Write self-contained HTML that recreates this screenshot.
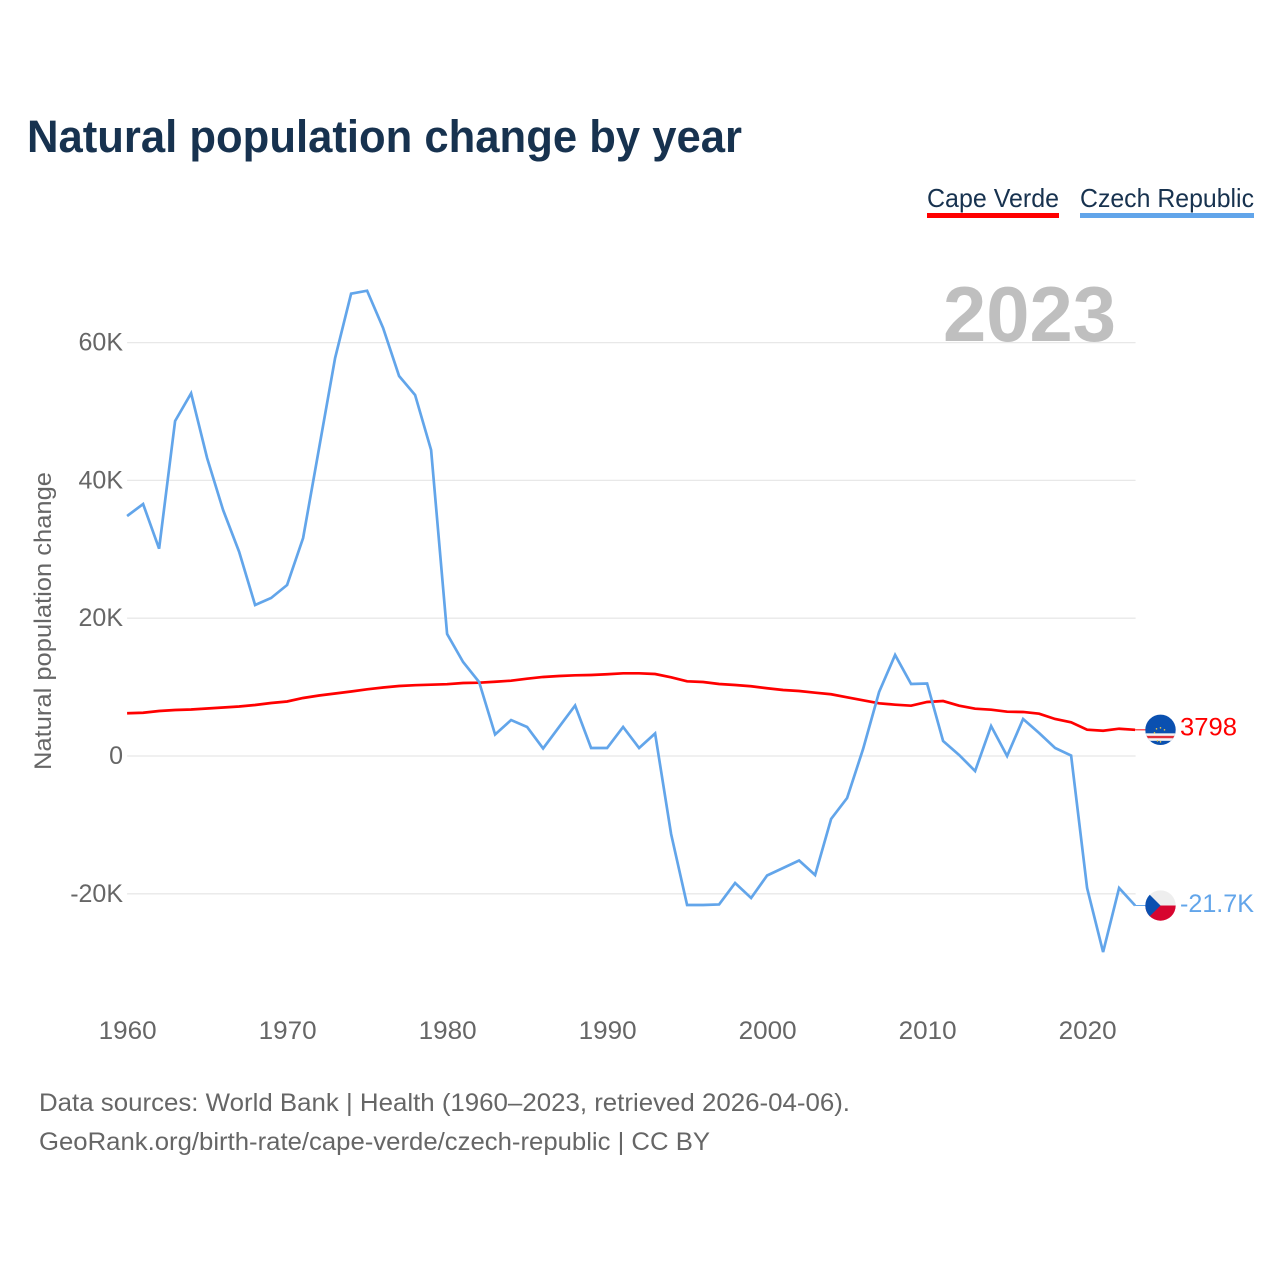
<!DOCTYPE html>
<html lang="en">
<head>
<meta charset="utf-8">
<title>Natural population change by year</title>
<style>
html,body{margin:0;padding:0;background:#fff;}
svg{display:block;font-family:"Liberation Sans",sans-serif;}
</style>
</head>
<body>
<svg id="chart" xmlns="http://www.w3.org/2000/svg" width="1280" height="1280" viewBox="0 0 1280 1280">
  <defs>
    <clipPath id="clip-cv"><circle cx="0" cy="0" r="15.2"/></clipPath>
    <clipPath id="clip-cz"><circle cx="0" cy="0" r="15.2"/></clipPath>
  </defs>
  <rect x="0" y="0" width="1280" height="1280" fill="#ffffff"/>
  <text x="27" y="152" font-size="45" font-weight="700" fill="#17324f" textLength="715" lengthAdjust="spacingAndGlyphs">Natural population change by year</text>

  <g>
    <text x="927" y="207" font-size="26" fill="#17324f" textLength="132" lengthAdjust="spacingAndGlyphs">Cape Verde</text>
    <rect x="927" y="213" width="132" height="5" fill="#ff0000"/>
  </g>
  <g>
    <text x="1080" y="207" font-size="26" fill="#17324f" textLength="174" lengthAdjust="spacingAndGlyphs">Czech Republic</text>
    <rect x="1080" y="213" width="174" height="5" fill="#62a5ea"/>
  </g>

  <g id="grid"></g>
  <text x="943" y="341" font-size="78" font-weight="700" fill="#bfbfbf" textLength="173" lengthAdjust="spacingAndGlyphs">2023</text>
  <g id="y-ticks"></g>
  <g id="x-ticks"></g>
  <text transform="translate(51,770) rotate(-90)" font-size="24" fill="#666666" textLength="298" lengthAdjust="spacingAndGlyphs">Natural population change</text>

  <g id="series"></g>

  <g id="flag-cv">
    <g clip-path="url(#clip-cv)">
      <rect x="-16" y="-16" width="32" height="32" fill="#0a50b0"/>
      <rect x="-16" y="3.5" width="32" height="7.5" fill="#f4f4f4"/>
      <rect x="-16" y="6" width="32" height="2.4" fill="#e0303a"/>
      <circle cx="-6" cy="3" r="0.8" fill="#e8c84a"/>
      <circle cx="-4" cy="-1" r="0.8" fill="#e8c84a"/>
      <circle cx="-3" cy="11" r="0.8" fill="#e8c84a"/>
      <circle cx="0" cy="-2" r="0.8" fill="#e8c84a"/>
      <circle cx="0" cy="12" r="0.8" fill="#e8c84a"/>
      <circle cx="4" cy="0" r="0.8" fill="#e8c84a"/>
    </g>
  </g>
  <g id="flag-cz">
    <g clip-path="url(#clip-cz)">
      <rect x="-16" y="-16" width="32" height="16" fill="#eeeeee"/>
      <rect x="-16" y="0" width="32" height="16" fill="#d7052f"/>
      <polygon points="-16,-16 0,0 -16,16" fill="#0a50b0"/>
    </g>
  </g>
  <text id="end-label-cv" font-size="25" fill="#ff0000" textLength="57" lengthAdjust="spacingAndGlyphs"></text>
  <text id="end-label-cz" font-size="25" fill="#62a5ea" textLength="74" lengthAdjust="spacingAndGlyphs"></text>

  <g>
    <text x="39" y="1111" font-size="25" fill="#666666" textLength="811" lengthAdjust="spacingAndGlyphs">Data sources: World Bank | Health (1960–2023, retrieved 2026-04-06).</text>
    <text x="39" y="1150" font-size="25" fill="#666666" textLength="671" lengthAdjust="spacingAndGlyphs">GeoRank.org/birth-rate/cape-verde/czech-republic | CC BY</text>
  </g>
</svg>
<script>
const years = [1960,1961,1962,1963,1964,1965,1966,1967,1968,1969,1970,1971,1972,1973,1974,1975,1976,1977,1978,1979,1980,1981,1982,1983,1984,1985,1986,1987,1988,1989,1990,1991,1992,1993,1994,1995,1996,1997,1998,1999,2000,2001,2002,2003,2004,2005,2006,2007,2008,2009,2010,2011,2012,2013,2014,2015,2016,2017,2018,2019,2020,2021,2022,2023];
const capeVerde = [6.20,6.28,6.53,6.68,6.75,6.89,7.04,7.18,7.40,7.69,7.91,8.42,8.78,9.07,9.36,9.68,9.94,10.16,10.28,10.35,10.42,10.60,10.64,10.78,10.93,11.22,11.47,11.61,11.71,11.76,11.86,12.00,12.00,11.90,11.42,10.84,10.74,10.45,10.30,10.12,9.83,9.58,9.43,9.19,8.96,8.52,8.08,7.65,7.45,7.30,7.84,7.98,7.30,6.87,6.72,6.43,6.39,6.14,5.37,4.89,3.82,3.67,3.96,3.798];
const czechRepublic = [34.83,36.57,30.09,48.62,52.64,43.25,35.70,29.65,21.92,22.93,24.82,31.64,44.70,57.76,67.10,67.53,62.12,55.15,52.39,44.41,17.71,13.64,10.74,3.12,5.22,4.21,1.09,4.21,7.33,1.16,1.16,4.21,1.16,3.27,-11.32,-21.63,-21.63,-21.55,-18.43,-20.61,-17.34,-16.26,-15.17,-17.27,-9.14,-6.10,1.02,9.29,14.66,10.45,10.52,2.18,0.15,-2.18,4.35,0,5.37,3.34,1.16,0.07,-19.16,-28.45,-19.16,-21.7];
const yTickValues = [60,40,20,0,-20];
const yTickLabels = ['60K','40K','20K','0','-20K'];
const xTickValues = [1960,1970,1980,1990,2000,2010,2020];
const xTickLabels = ['1960','1970','1980','1990','2000','2010','2020'];
const capeVerdeEndLabel = '3798';
const czechEndLabel = '-21.7K';

const NS = 'http://www.w3.org/2000/svg';
function xScale(year){ return 127.1 + (year - 1960) * 16; }
function yScale(value){ return 756 - value * 6.89; }

const gridGroup = document.getElementById('grid');
const yTickGroup = document.getElementById('y-ticks');
const xTickGroup = document.getElementById('x-ticks');
const seriesGroup = document.getElementById('series');

yTickValues.forEach(function(v, i){
  const line = document.createElementNS(NS, 'line');
  
  
  line.setAttribute('x1', xScale(1960));
  line.setAttribute('x2', xScale(2023) + 0.5);
  line.setAttribute('y1', yScale(v));
  line.setAttribute('y2', yScale(v));
  line.setAttribute('stroke', '#e8e8e8');
  line.setAttribute('stroke-width', '1.3');
  gridGroup.appendChild(line);

  const label = document.createElementNS(NS, 'text');
  
  
  label.setAttribute('x', 123);
  label.setAttribute('y', yScale(v) + 8);
  label.setAttribute('text-anchor', 'end');
  label.setAttribute('font-size', '25');
  label.setAttribute('fill', '#666666');
  label.textContent = yTickLabels[i];
  yTickGroup.appendChild(label);
});

xTickValues.forEach(function(v, i){
  const label = document.createElementNS(NS, 'text');
  
  
  label.setAttribute('x', xScale(v) + 0.5);
  label.setAttribute('y', 1039);
  label.setAttribute('text-anchor', 'middle');
  label.setAttribute('font-size', '25');
  label.setAttribute('fill', '#666666');
  label.setAttribute('textLength', '58');
  label.setAttribute('lengthAdjust', 'spacingAndGlyphs');
  label.textContent = xTickLabels[i];
  xTickGroup.appendChild(label);
});

function drawSeries(values, color, name){
  const d = values.map(function(v, i){
    return (i ? 'L' : 'M') + xScale(years[i]).toFixed(2) + ' ' + yScale(v).toFixed(2);
  }).join('');
  const path = document.createElementNS(NS, 'path');
  
  
  path.setAttribute('d', d);
  path.setAttribute('fill', 'none');
  path.setAttribute('stroke', color);
  path.setAttribute('stroke-width', '2.7');
  path.setAttribute('stroke-linejoin', 'miter');
  seriesGroup.appendChild(path);
}
drawSeries(capeVerde, '#ff0000', 'cape-verde-line');
drawSeries(czechRepublic, '#62a5ea', 'czech-republic-line');

function drawEnd(values, color, flagId, labelId, text, name, labelOffset){
  const last = values[values.length - 1];
  const lastYear = years[years.length - 1];
  const y = yScale(last);
  const x0 = xScale(lastYear);
  const connector = document.createElementNS(NS, 'line');
  
  
  connector.setAttribute('x1', x0);
  connector.setAttribute('x2', x0 + 11);
  connector.setAttribute('y1', y);
  connector.setAttribute('y2', y);
  connector.setAttribute('stroke', color);
  connector.setAttribute('stroke-width', '1');
  seriesGroup.appendChild(connector);
  document.getElementById(flagId).setAttribute('transform', 'translate(' + (x0 + 25.4) + ',' + y + ')');
  const label = document.getElementById(labelId);
  label.setAttribute('x', x0 + 44.9);
  label.setAttribute('y', y + labelOffset);
  label.textContent = text;
}
drawEnd(capeVerde, '#ff0000', 'flag-cv', 'end-label-cv', capeVerdeEndLabel, 'cape-verde-connector', 5.5);
drawEnd(czechRepublic, '#62a5ea', 'flag-cz', 'end-label-cz', czechEndLabel, 'czech-republic-connector', 6.5);
</script>
</body>
</html>
